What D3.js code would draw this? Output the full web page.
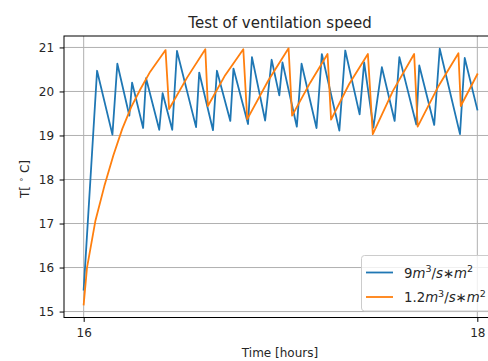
<!DOCTYPE html>
<html>
    <head>
        <meta charset="utf-8">
        <title>Test of ventilation speed</title>
        <script src="https://d3js.org/d3.v7.min.js" charset="utf-8"></script>
        <style>
            body { margin: 0; background: white; }
            text { font-family: "DejaVu Sans", sans-serif; fill: #262626; }
        </style>
    </head>
    <body>
        <script>
            var width_SVG = 488;
            var height_SVG = 361;

            // 9 m3/s*m2 run
            var blueTime = [16.000, 16.068, 16.146, 16.171, 16.232, 16.246, 16.302, 16.317, 16.384, 16.401,
                            16.450, 16.474, 16.571, 16.587, 16.657, 16.677, 16.745, 16.761, 16.835, 16.855,
                            16.922, 16.955, 16.994, 17.010, 17.083, 17.107, 17.183, 17.210, 17.299, 17.329,
                            17.402, 17.425, 17.472, 17.515, 17.580, 17.604, 17.690, 17.705, 17.781, 17.809,
                            17.912, 17.936, 18.000];
            var blueTemp = [15.50, 20.47, 19.02, 20.63, 19.45, 20.20, 19.17, 20.30, 19.13, 19.96,
                            19.13, 20.92, 19.19, 20.43, 19.12, 20.47, 19.33, 20.52, 19.26, 20.78,
                            19.34, 20.72, 19.91, 20.66, 19.20, 20.63, 19.17, 20.85, 19.11, 20.93,
                            19.48, 20.66, 19.18, 20.55, 19.33, 20.78, 19.25, 20.59, 19.24, 20.97,
                            19.03, 20.76, 19.59];

            // 1.2 m3/s*m2 run
            var orangeTime = [16.000, 16.017, 16.059, 16.105, 16.151, 16.196, 16.242, 16.288, 16.338, 16.416,
                              16.434, 16.526, 16.618, 16.631, 16.719, 16.811, 16.831, 16.938, 17.041, 17.059,
                              17.151, 17.239, 17.257, 17.349, 17.444, 17.469, 17.572, 17.679, 17.697, 17.800,
                              17.904, 17.916, 18.000];
            var orangeTemp = [15.16, 16.00, 17.05, 17.85, 18.55, 19.15, 19.65, 20.05, 20.45, 20.94,
                              19.60, 20.32, 20.96, 19.67, 20.37, 20.96, 19.37, 20.25, 20.98, 19.45,
                              20.20, 20.85, 19.36, 20.17, 20.85, 19.03, 20.02, 20.85, 19.20, 20.10,
                              20.87, 19.67, 20.39];

            var xTicks = [16, 18];
            var yTicks = [15, 16, 17, 18, 19, 20, 21];
            var seriesColors = ["#1f77b4", "#ff7f0e"];

            var plotLeft = 64, plotRight = 497, plotTop = 36, plotBottom = 317.5;

            var x = d3.scaleLinear().domain([15.9, 18.1]).range([plotLeft, plotRight]);
            var y = d3.scaleLinear().domain([14.865, 21.26]).range([plotBottom, plotTop]);

            var svg = d3.select("body")
                        .append("svg")
                        .attr("width", width_SVG)
                        .attr("height", height_SVG)
                        .style("display", "block");

            // grid
            svg.append("g").selectAll("line")
                .data(yTicks).enter().append("line")
                .attr("x1", plotLeft).attr("x2", plotRight)
                .attr("y1", d => y(d)).attr("y2", d => y(d))
                .style("stroke", "#b0b0b0").style("stroke-width", 1);
            svg.append("g").selectAll("line")
                .data(xTicks).enter().append("line")
                .attr("y1", plotTop).attr("y2", plotBottom)
                .attr("x1", d => x(d)).attr("x2", d => x(d))
                .style("stroke", "#b0b0b0").style("stroke-width", 1);

            var line = d3.line().x(d => x(d[0])).y(d => y(d[1]));
            var series = [d3.zip(blueTime, blueTemp), d3.zip(orangeTime, orangeTemp)];

            svg.append("defs").append("clipPath").attr("id", "clip")
                .append("rect").attr("x", plotLeft).attr("y", plotTop)
                .attr("width", plotRight - plotLeft).attr("height", plotBottom - plotTop);

            svg.append("g").attr("clip-path", "url(#clip)")
                .selectAll("path").data(series).enter().append("path")
                .attr("d", line)
                .style("fill", "none")
                .style("stroke", (d, i) => seriesColors[i])
                .style("stroke-width", 1.8)
                .style("stroke-linejoin", "round")
                .style("stroke-linecap", "square");

            // axes
            var xAxis = svg.append("g").attr("transform", "translate(0," + plotBottom + ")")
                .call(d3.axisBottom(x).tickValues(xTicks).tickFormat(d3.format("d")).tickSize(4.4).tickPadding(6.4));
            var yAxis = svg.append("g").attr("transform", "translate(" + plotLeft + ",0)")
                .call(d3.axisLeft(y).tickValues(yTicks).tickFormat(d3.format("d")).tickSize(4.4).tickPadding(5.5));
            [xAxis, yAxis].forEach(function(a) {
                a.select(".domain").remove();
                a.selectAll("line").style("stroke", "#000").style("stroke-width", 1);
                a.selectAll("text").style("font-size", "12px").style("font-family", "DejaVu Sans").style("fill", "#262626");
            });

            // spines
            svg.append("rect")
                .attr("x", plotLeft).attr("y", plotTop)
                .attr("width", plotRight - plotLeft).attr("height", plotBottom - plotTop)
                .style("fill", "none").style("stroke", "#000").style("stroke-width", 1);

            // title & labels
            svg.append("text")
                .attr("x", 280).attr("y", 28.3)
                .attr("text-anchor", "middle")
                .style("font-size", "15px")
                .text("Test of ventilation speed");

            svg.append("text")
                .attr("x", 280).attr("y", 357)
                .attr("text-anchor", "middle")
                .style("font-size", "12px")
                .text("Time [hours]");

            var yl = svg.append("text")
                .attr("transform", "translate(28.5,179) rotate(-90)")
                .attr("text-anchor", "middle")
                .style("font-size", "12px");
            yl.append("tspan").text("T[ ");
            yl.append("tspan").attr("dy", -5).style("font-size", "8.5px").text("∘");
            yl.append("tspan").attr("dy", 5).text(" C]");

            // legend
            var legend = svg.append("g");
            legend.append("rect")
                .attr("x", 361.5).attr("y", 255.5)
                .attr("width", 131).attr("height", 55.5)
                .attr("rx", 3)
                .style("fill", "white").style("fill-opacity", 0.8)
                .style("stroke", "#cccccc").style("stroke-width", 1);

            var legendLabels = [
                [["9", ""], ["m", "i"], ["3", "s"], ["/", ""], ["s", "i"], ["∗", ""], ["m", "i"], ["2", "s"]],
                [["1.2", ""], ["m", "i"], ["3", "s"], ["/", ""], ["s", "i"], ["∗", ""], ["m", "i"], ["2", "s"]]
            ];

            legendLabels.forEach(function(parts, i) {
                var ly = 272.5 + i * 24.5;
                legend.append("line")
                    .attr("x1", 366).attr("x2", 393)
                    .attr("y1", ly).attr("y2", ly)
                    .style("stroke", seriesColors[i]).style("stroke-width", 1.8);
                var t = legend.append("text")
                    .attr("x", 404).attr("y", ly + 5)
                    .style("font-size", "13.3px");
                var up = false;
                parts.forEach(function(p) {
                    var ts = t.append("tspan").text(p[0]);
                    if (p[1] == "i") ts.style("font-style", "italic");
                    if (p[1] == "s") {
                        ts.style("font-size", "9.5px").attr("dy", -5.5);
                        up = true;
                    } else if (up) {
                        ts.attr("dy", 5.5);
                        up = false;
                    }
                });
            });
        </script>
    </body>
</html>
